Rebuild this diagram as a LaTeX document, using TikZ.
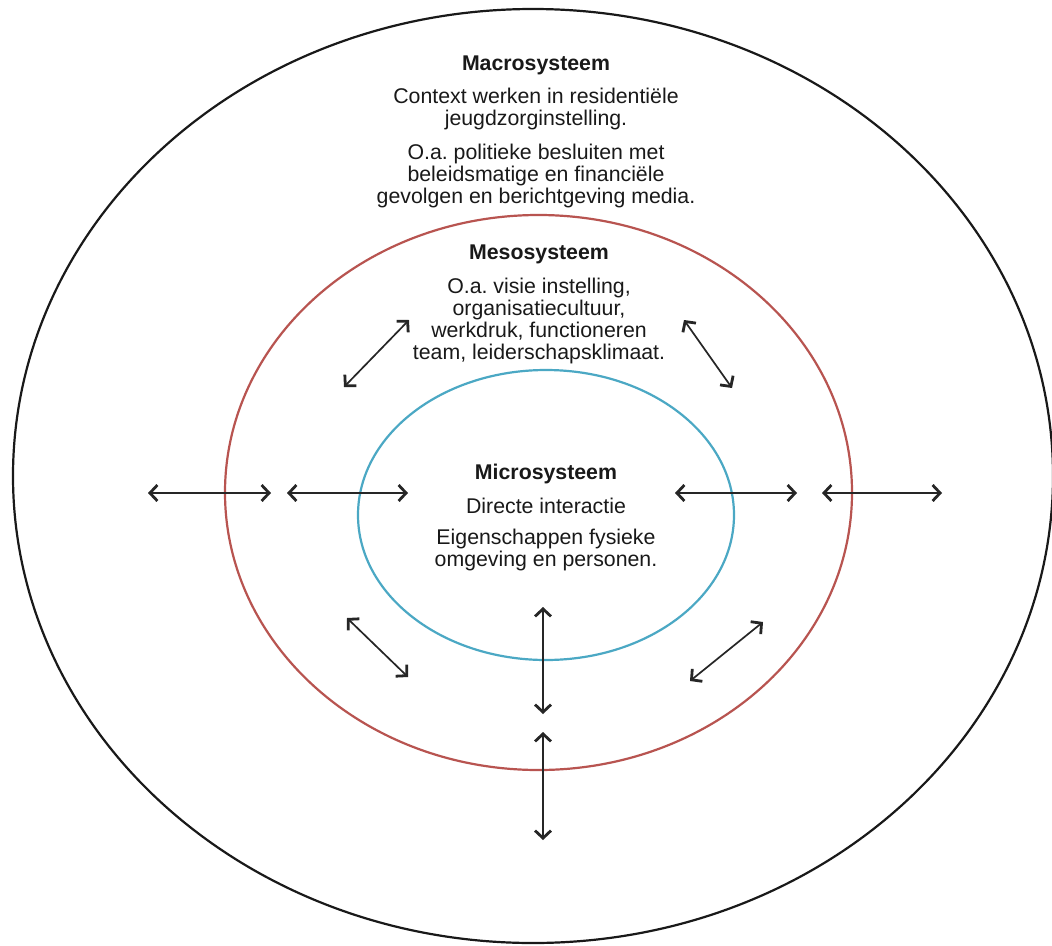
\documentclass[tikz,border=0pt]{standalone}
\usepackage{fontspec}
\setmainfont{Liberation Sans}
\usetikzlibrary{arrows.meta,shapes.geometric}
\definecolor{redring}{RGB}{184,84,80}
\definecolor{bluering}{RGB}{75,168,196}
\frenchspacing
\begin{document}
\begin{tikzpicture}[x=1pt,y=-1pt,
  ring/.style={ellipse, draw, line width=2.2pt, inner sep=0pt},
  barb/.tip={Straight Barb[length=7.5pt,width=16pt,line width=2.8pt]},
  dbl/.style={{barb}-{barb}, line width=1.7pt, black!85},
  txt/.style={anchor=base, inner sep=0pt, font=\fontsize{21.3}{21.5}\selectfont, text=black!90}]
\useasboundingbox (0,0) rectangle (1052,945);
\fill[white] (0,0) rectangle (1052,945);
% rings
\node[ring, draw=black!90, minimum width=1040pt, minimum height=934pt] (macro) at (533,476) {};
\node[ring, draw=redring, minimum width=627pt, minimum height=555pt] (meso) at (538.5,492.5) {};
\node[ring, draw=bluering, minimum width=376pt, minimum height=290pt] (micro) at (546,515) {};
% texts
\node[txt] (macrotxt) at (536,70) {\begin{tabular}[t]{@{}c@{}}\textbf{Macrosysteem}\\[11.5pt]
  Context werken in residentiële\\ jeugdzorginstelling.\\[12.5pt]
  O.a. politieke besluiten met\\ beleidsmatige en financiële\\ gevolgen en berichtgeving media.\end{tabular}};
\node[txt] (mesotxt) at (539,259) {\begin{tabular}[t]{@{}c@{}}\textbf{Mesosysteem}\\[12.5pt]
  O.a. visie instelling,\\ organisatiecultuur,\\ werkdruk, functioneren\\ team, leiderschapsklimaat.\end{tabular}};
\node[txt] (microtxt) at (546,479) {\begin{tabular}[t]{@{}c@{}}\textbf{Microsysteem}\\[12.5pt]
  Directe interactie\\[9.5pt]
  Eigenschappen fysieke\\ omgeving en personen.\end{tabular}};
% arrow end points
\coordinate (h1a) at (148,493); \coordinate (h1b) at (271,493);
\coordinate (h2a) at (287,493); \coordinate (h2b) at (408,493);
\coordinate (h3a) at (675,493); \coordinate (h3b) at (797,493);
\coordinate (h4a) at (822,493); \coordinate (h4b) at (942,493);
\coordinate (d1a) at (344,387); \coordinate (d1b) at (409,320);
\coordinate (d2a) at (684,320); \coordinate (d2b) at (732,388);
\coordinate (d3a) at (347,618); \coordinate (d3b) at (408,677);
\coordinate (d4a) at (763,622); \coordinate (d4b) at (690,681);
\coordinate (v1a) at (543,607); \coordinate (v1b) at (543,714);
\coordinate (v2a) at (543,732); \coordinate (v2b) at (543,840);
% arrows
\draw[dbl] (h1a) -- (h1b);
\draw[dbl] (h2a) -- (h2b);
\draw[dbl] (h3a) -- (h3b);
\draw[dbl] (h4a) -- (h4b);
\draw[dbl] (d1a) -- (d1b);
\draw[dbl] (d2a) -- (d2b);
\draw[dbl] (d3a) -- (d3b);
\draw[dbl] (d4a) -- (d4b);
\draw[dbl] (v1a) -- (v1b);
\draw[dbl] (v2a) -- (v2b);
\end{tikzpicture}
\end{document}
